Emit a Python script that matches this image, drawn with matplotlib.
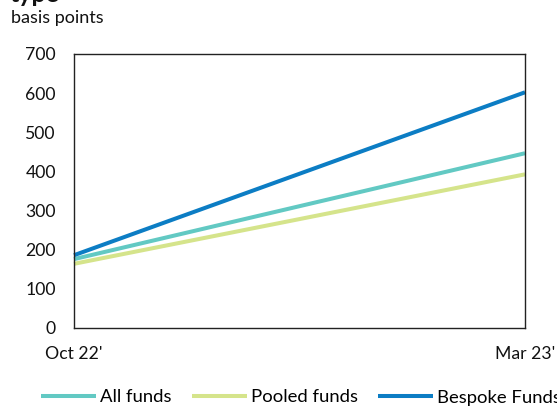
import matplotlib
matplotlib.use("Agg")
import matplotlib.pyplot as plt

plt.rcParams['font.family'] = ['Lato', 'DejaVu Sans']

# Fee levels in basis points at the two survey dates
periods = ["Oct 22'", "Mar 23'"]
all_funds = [175, 446]
pooled_funds = [163, 392]
bespoke_funds = [185, 602]

series_names = ["All funds", "Pooled funds", "Bespoke Funds"]
colors = ["#62C9C3", "#D5E48B", "#0C7DC4"]

y_ticks = [0, 100, 200, 300, 400, 500, 600, 700]

W, H = 557, 409
fig = plt.figure(figsize=(W / 100, H / 100), dpi=100)
ax = fig.add_axes([74 / W, 1 - 327.5 / H, (525 - 74) / W, (327.5 - 54) / H])

x = list(range(len(periods)))
for vals, name, c in zip([all_funds, pooled_funds, bespoke_funds], series_names, colors):
    ax.plot(x, vals, color=c, lw=2.9, label=name, solid_capstyle='butt', clip_on=False)

ax.set_xlim(0, 1)
ax.set_ylim(0, 700)
ax.set_yticks(y_ticks)
ax.set_xticks(x)
ax.set_xticklabels(periods)
ax.tick_params(axis='both', length=0, labelsize=12.7, colors='#111111')
ax.tick_params(axis='y', pad=13)
ax.tick_params(axis='x', pad=13)
for s in ax.spines.values():
    s.set_color('#222222')
    s.set_linewidth(1.0)

fig.text(10 / W, 1 - 2.5 / H, "type", fontsize=18, fontweight='bold', va='baseline', ha='left', color='#111111')
fig.text(11 / W, 1 - 23.5 / H, "basis points", fontsize=13, va='baseline', ha='left', color='#111111')

handles, labels = ax.get_legend_handles_labels()
fig.legend(handles, labels, ncol=3, loc='center left', bbox_to_anchor=(41 / W, 1 - 397.5 / H),
           frameon=False, fontsize=13.3, handlelength=3.0, handletextpad=0.2,
           columnspacing=1.08, borderaxespad=0, borderpad=0)

fig.savefig("out.png", dpi=100)
